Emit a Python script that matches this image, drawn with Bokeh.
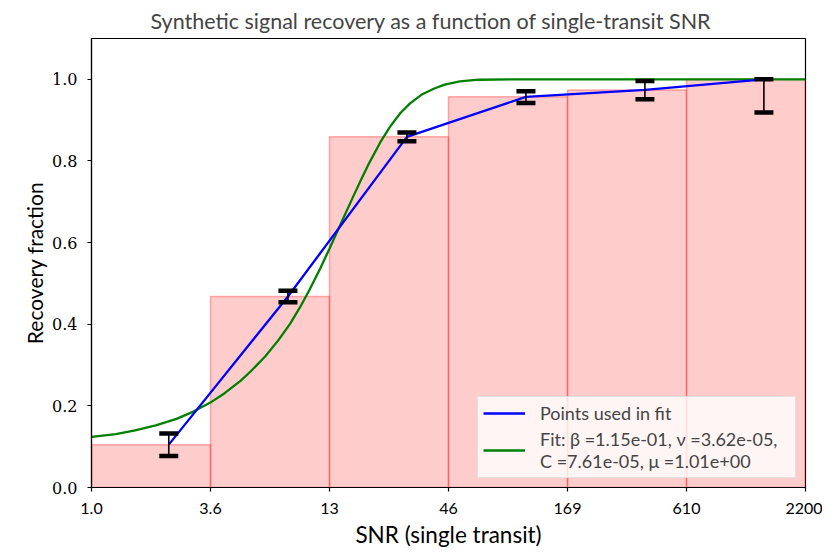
from bokeh.plotting import figure
from bokeh.models import Range1d, FixedTicker, Legend, LegendItem, PrintfTickFormatter
from bokeh.embed import file_html
from bokeh.resources import INLINE

# ---- data ----
bin_edges = [1.0, 3.607, 13.01, 46.91, 169.2, 610.2, 2200.0]
edge_labels = ["1.0", "3.6", "13", "46", "169", "610", "2200"]
bin_recovery = [0.105, 0.468, 0.859, 0.957, 0.974, 1.0]

point_snr = [2.30, 8.31, 29.96, 108.1, 389.7, 1405.1]
point_recovery = [0.105, 0.468, 0.859, 0.957, 0.974, 1.0]
err_low = [0.077, 0.454, 0.848, 0.942, 0.951, 0.919]
err_high = [0.132, 0.482, 0.870, 0.971, 0.996, 1.0]

fit_snr = [1.0, 1.3, 1.6, 2.0, 2.5, 3.0, 3.6, 4.2, 5.0, 5.6, 6.5, 7.5, 8.5, 9.5,
           10.5, 11.8, 13.0, 14.6, 16.5, 18.2, 20.0, 22.5, 25.0, 28.0, 31.0, 35.0,
           40.0, 45.0, 53.0, 65.0, 100.0, 2200.0]
fit_recovery = [0.124, 0.131, 0.140, 0.152, 0.168, 0.186, 0.208, 0.231, 0.262, 0.286,
                0.321, 0.361, 0.401, 0.443, 0.485, 0.538, 0.585, 0.643, 0.704, 0.752,
                0.796, 0.846, 0.884, 0.918, 0.941, 0.962, 0.977, 0.987, 0.995, 0.999,
                1.0, 1.0]

y_ticks = [0.0, 0.2, 0.4, 0.6, 0.8, 1.0]

title_text = "Synthetic signal recovery as a function of single-transit SNR"
x_label = "SNR (single transit)"
y_label = "Recovery fraction"
legend_points = "Points used in fit"
legend_fit = "Fit: \u03b2 =1.15e-01, \u03bd =3.62e-05,\nC =7.61e-05, \u03bc =1.01e+00"

# ---- figure ----
p = figure(x_axis_type="log", x_range=Range1d(1.0, 2200.0), y_range=Range1d(0.0, 1.1),
           frame_width=714, frame_height=449,
           min_border_left=91, min_border_right=17, min_border_top=38, min_border_bottom=62,
           output_backend="svg", toolbar_location=None)

p.quad(left=bin_edges[:-1], right=bin_edges[1:], bottom=0, top=bin_recovery,
       fill_color="red", fill_alpha=0.2, line_color="red", line_alpha=0.3, line_width=1.5)

green = p.line(fit_snr, fit_recovery, line_color="green", line_width=2.3)
blue = p.line(point_snr, point_recovery, line_color="blue", line_width=2.3)

p.segment(x0=point_snr, y0=err_low, x1=point_snr, y1=err_high,
          line_color="black", line_width=1.6)
p.scatter(x=point_snr + point_snr, y=err_low + err_high, marker="dash",
          size=19, line_width=4.5, line_color="black")

legend = Legend(items=[LegendItem(label=legend_points, renderers=[blue]),
                       LegendItem(label=legend_fit, renderers=[green])],
                location="bottom_right")
legend.label_text_font = "Lato"
legend.label_text_font_size = "18px"
legend.label_text_line_height = 1.0
legend.label_width = 250
legend.glyph_width = 42
legend.label_standoff = 15
legend.border_line_color = "#cccccc"
legend.border_line_width = 1
legend.background_fill_color = "white"
legend.background_fill_alpha = 0.8
legend.margin = 9
legend.padding = 5
legend.spacing = 4
p.add_layout(legend)

# ---- axes ----
p.grid.visible = False
p.outline_line_color = "black"
p.outline_line_width = 1.2
p.outline_line_alpha = 1.0

p.xaxis.ticker = FixedTicker(ticks=bin_edges, minor_ticks=[])
p.xaxis.major_label_overrides = {e: l for e, l in zip(bin_edges, edge_labels)}
p.yaxis.ticker = FixedTicker(ticks=y_ticks, minor_ticks=[])
p.yaxis.formatter = PrintfTickFormatter(format="%.1f")

for ax in (p.xaxis[0], p.yaxis[0]):
    ax.axis_line_color = "black"
    ax.axis_line_width = 1.2
    ax.major_tick_line_color = "black"
    ax.major_tick_line_width = 1.2
    ax.major_tick_out = 4
    ax.major_tick_in = 0
    ax.minor_tick_out = 0
    ax.minor_tick_in = 0
    ax.axis_label_text_font = "Lato"
    ax.axis_label_text_font_style = "normal"
    ax.axis_label_text_color = "black"
    ax.major_label_text_color = "black"

p.xaxis.axis_label = x_label
p.yaxis.axis_label = y_label
p.xaxis.axis_label_text_font_size = "22.5px"
p.yaxis.axis_label_text_font_size = "21px"
p.xaxis.major_label_text_font = "Lato"
p.xaxis.major_label_text_font_size = "16px"
p.xaxis.major_label_standoff = 11
p.xaxis.axis_label_standoff = 4
p.yaxis.major_label_text_font = "DejaVu Serif"
p.yaxis.major_label_text_font_size = "16px"
p.yaxis.major_label_standoff = 10
p.yaxis.axis_label_standoff = 2

p.title.text = title_text
p.title.text_font = "Lato"
p.title.text_font_size = "21.5px"
p.title.text_font_style = "normal"
p.title.align = "left"
p.title.offset = 59

open("out.html", "w").write(file_html(p, INLINE))
